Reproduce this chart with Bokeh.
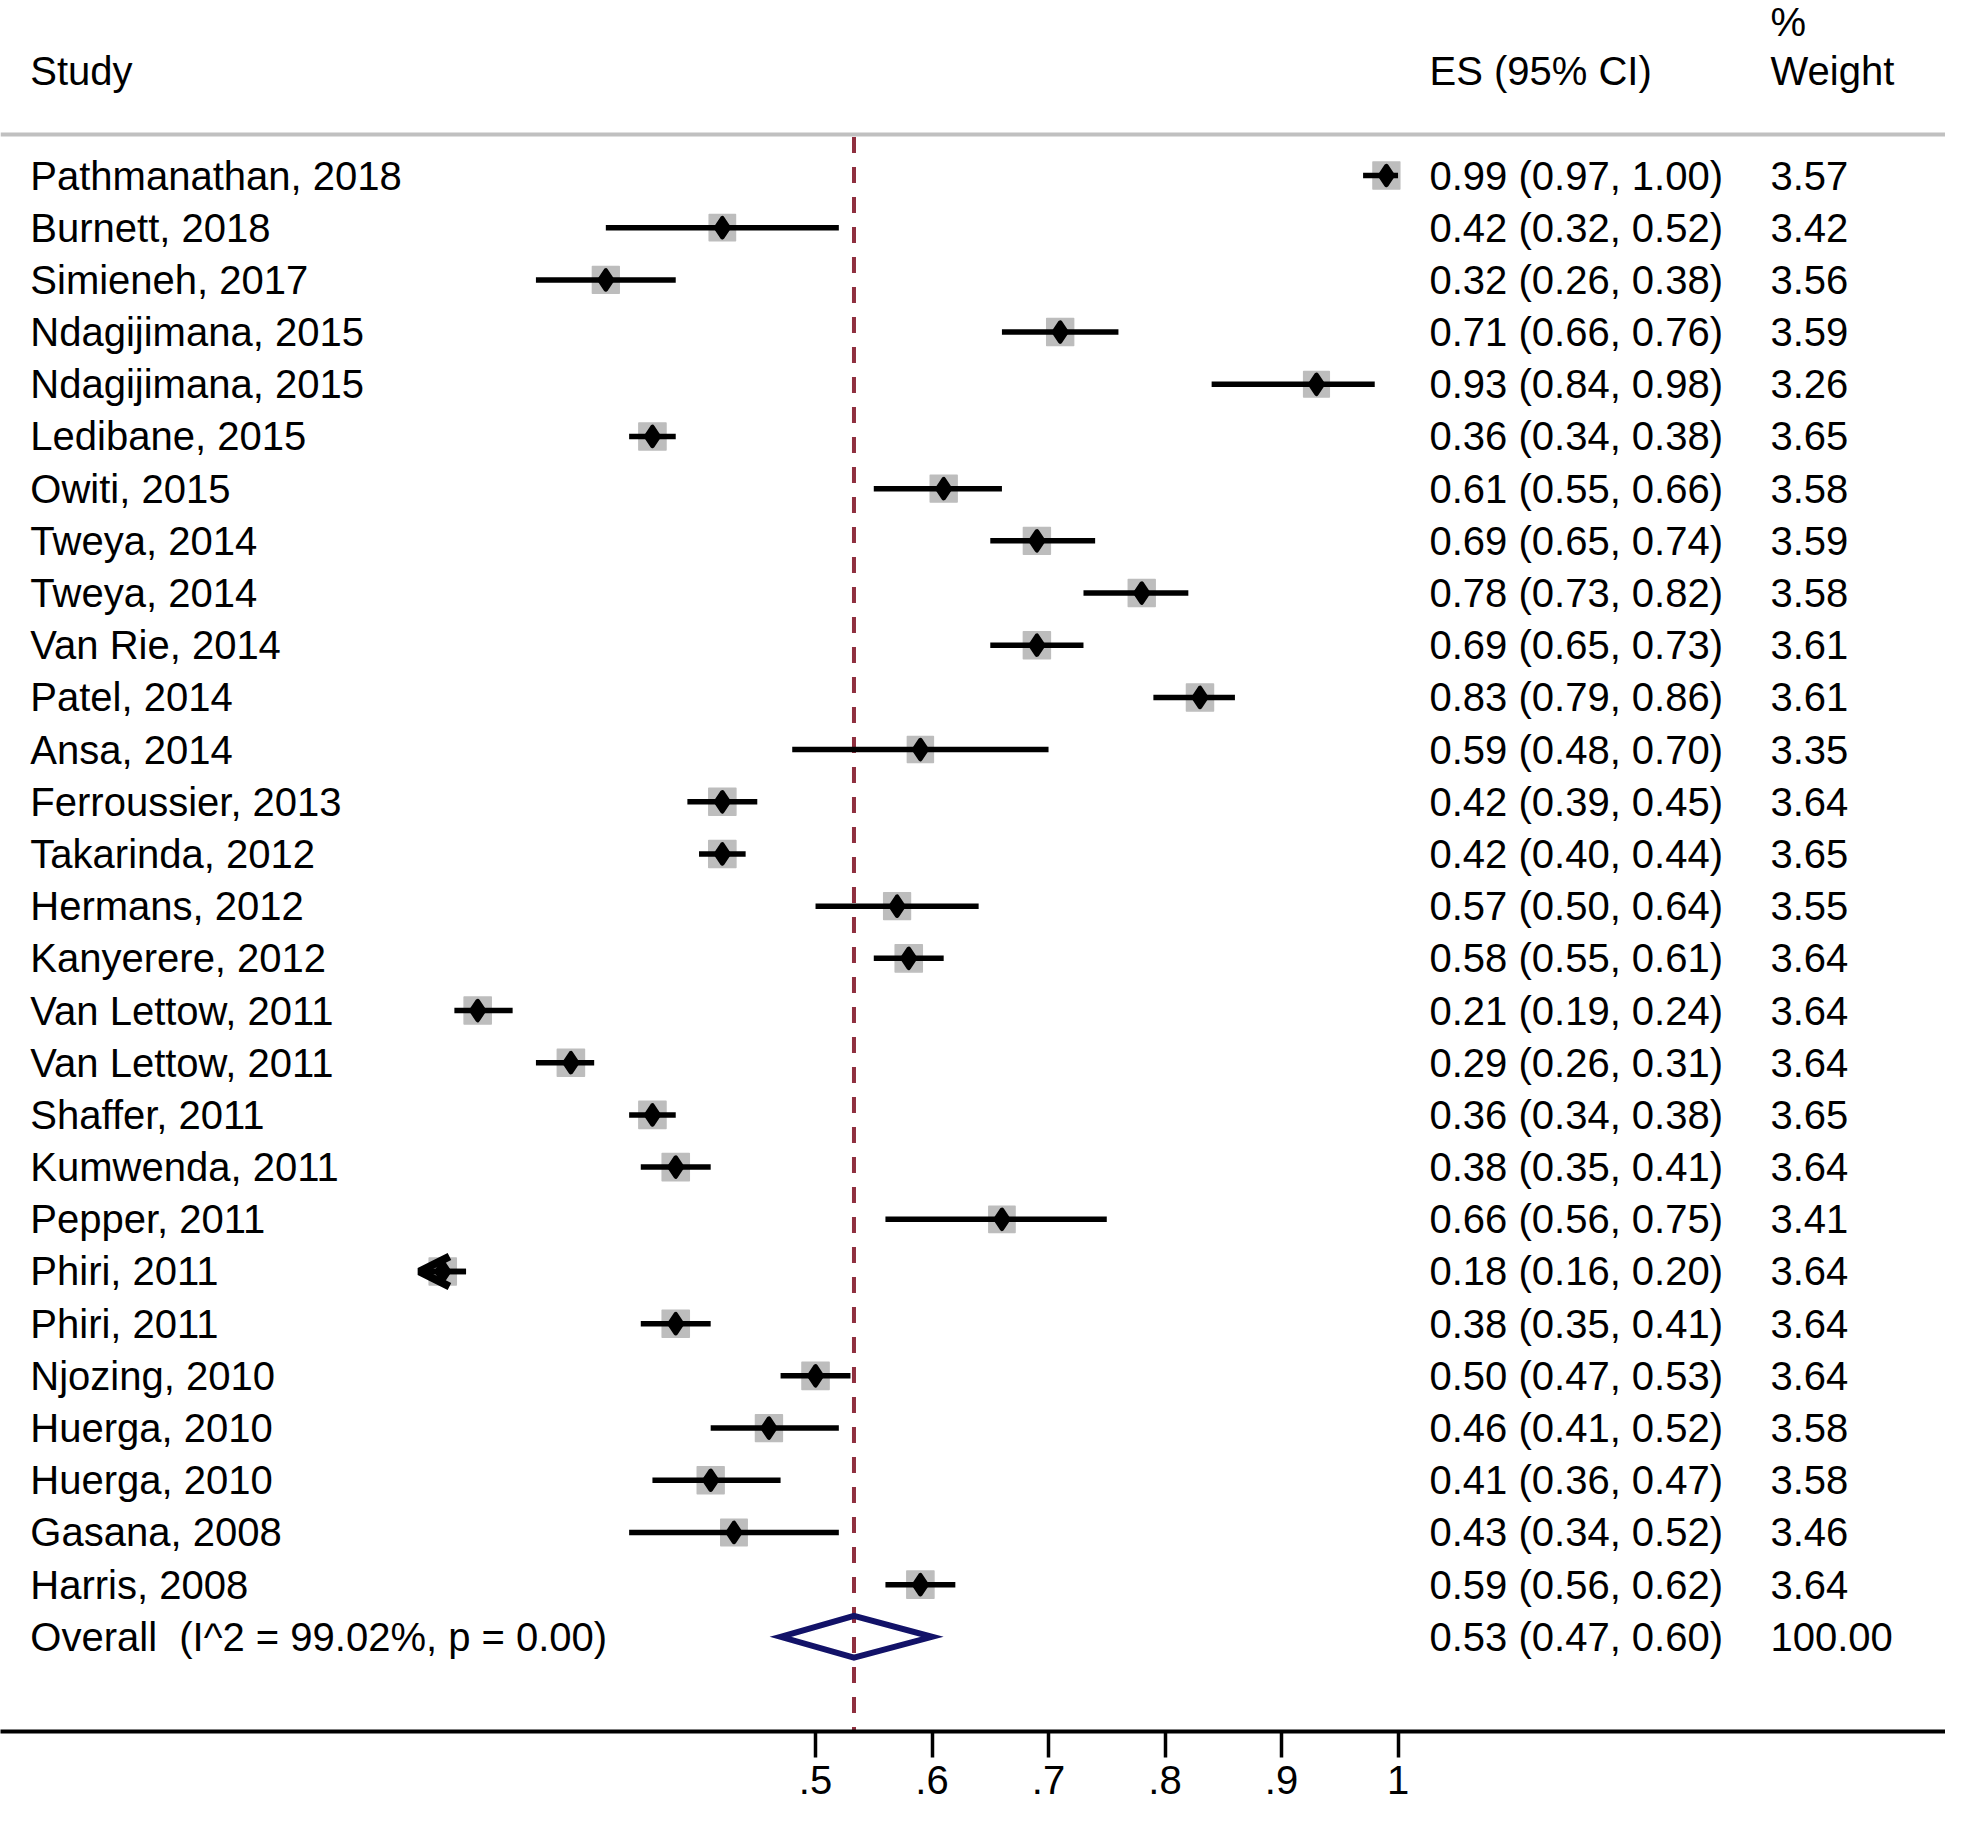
from bokeh.plotting import figure
from bokeh.models import Range1d, FixedTicker, ColumnDataSource, Arrow, OpenHead
from bokeh.core.properties import value
from bokeh.embed import file_html
from bokeh.resources import INLINE

# ---------------- data ----------------
studies = [
    "Pathmanathan, 2018", "Burnett, 2018", "Simieneh, 2017", "Ndagijimana, 2015",
    "Ndagijimana, 2015", "Ledibane, 2015", "Owiti, 2015", "Tweya, 2014",
    "Tweya, 2014", "Van Rie, 2014", "Patel, 2014", "Ansa, 2014",
    "Ferroussier, 2013", "Takarinda, 2012", "Hermans, 2012", "Kanyerere, 2012",
    "Van Lettow, 2011", "Van Lettow, 2011", "Shaffer, 2011", "Kumwenda, 2011",
    "Pepper, 2011", "Phiri, 2011", "Phiri, 2011", "Njozing, 2010",
    "Huerga, 2010", "Huerga, 2010", "Gasana, 2008", "Harris, 2008",
]
es = [0.99, 0.42, 0.32, 0.71, 0.93, 0.36, 0.61, 0.69, 0.78, 0.69, 0.83, 0.59,
      0.42, 0.42, 0.57, 0.58, 0.21, 0.29, 0.36, 0.38, 0.66, 0.18, 0.38, 0.50,
      0.46, 0.41, 0.43, 0.59]
ci_low = [0.97, 0.32, 0.26, 0.66, 0.84, 0.34, 0.55, 0.65, 0.73, 0.65, 0.79, 0.48,
          0.39, 0.40, 0.50, 0.55, 0.19, 0.26, 0.34, 0.35, 0.56, 0.16, 0.35, 0.47,
          0.41, 0.36, 0.34, 0.56]
ci_high = [1.00, 0.52, 0.38, 0.76, 0.98, 0.38, 0.66, 0.74, 0.82, 0.73, 0.86, 0.70,
           0.45, 0.44, 0.64, 0.61, 0.24, 0.31, 0.38, 0.41, 0.75, 0.20, 0.41, 0.53,
           0.52, 0.47, 0.52, 0.62]
weight = [3.57, 3.42, 3.56, 3.59, 3.26, 3.65, 3.58, 3.59, 3.58, 3.61, 3.61, 3.35,
          3.64, 3.65, 3.55, 3.64, 3.64, 3.64, 3.65, 3.64, 3.41, 3.64, 3.64, 3.64,
          3.58, 3.58, 3.46, 3.64]

overall_label = "Overall \u00a0(I^2 = 99.02%, p = 0.00)"
overall_es = 0.533
overall_low = 0.47
overall_high = 0.60
overall_weight = 100.00

x_ticks = [0.5, 0.6, 0.7, 0.8, 0.9, 1.0]
tick_labels = [".5", ".6", ".7", ".8", ".9", "1"]

header_study = "Study"
header_es = "ES (95% CI)"
header_w1 = "%"
header_w2 = "Weight"

arrow_limit = 0.17  # CIs reaching below this are drawn with an arrow

# ---------------- layout constants ----------------
W, H = 1945, 1816
FRAME_H = 1731
ROW_PX = 52.19
ROW0_PX = 175.0
FONT = value("Liberation Sans")
FS = value("40px")

y_top = -ROW0_PX / ROW_PX
y_bottom = y_top + FRAME_H / ROW_PX
x_left = -0.1996
x_right = x_left + W / 1165.0

n = len(studies)
rows = list(range(n))
overall_row = n

x_label = -0.174
x_es_col = 1.027
x_w_col = 1.3197

p = figure(width=W, height=H, output_backend="svg", toolbar_location=None,
           x_range=Range1d(x_left, x_right), y_range=Range1d(y_bottom, y_top),
           y_axis_location=None, min_border_left=0, min_border_right=0,
           min_border_top=0, min_border_bottom=H - FRAME_H, outline_line_color=None,
           background_fill_color="white", border_fill_color="white")
p.xgrid.visible = False
p.ygrid.visible = False

# header separator line
p.segment(x0=[x_left], x1=[x_right], y0=[-0.786], y1=[-0.786],
          line_color="#c0c0c0", line_width=4)

# overall dashed line
p.segment(x0=[overall_es], x1=[overall_es], y0=[-0.74], y1=[y_bottom],
          line_color="#8f2f3f", line_width=4, line_dash="16 14")

src = ColumnDataSource(dict(
    y=rows, es=es, lo=ci_low, hi=ci_high, w=weight,
    side=[14.2 * (w ** 0.5) for w in weight],
    label=studies,
    es_txt=["%.2f (%.2f, %.2f)" % (e, l, h) for e, l, h in zip(es, ci_low, ci_high)],
    w_txt=["%.2f" % w for w in weight],
))

# weight boxes, CIs, point estimates
p.scatter(x="es", y="y", size="side", marker="square", source=src,
          fill_color="#bdbdbd", line_color="#bdbdbd", line_width=1.5,
          line_join="round")
p.segment(x0="lo", x1="hi", y0="y", y1="y", source=src,
          line_color="black", line_width=5.5)
p.scatter(x="es", y="y", size=19, marker="diamond", source=src,
          fill_color="black", line_color="black", line_width=4.5, line_join="round")

for lo_v, hi_v, r in zip(ci_low, ci_high, rows):
    if lo_v < arrow_limit:
        p.add_layout(Arrow(end=OpenHead(size=30, line_width=8, line_color="black"),
                           x_start=hi_v, x_end=lo_v, y_start=r, y_end=r,
                           line_color="black", line_width=5.5))

# overall diamond
hh = 0.40
p.patch(x=[overall_low, overall_es, overall_high, overall_es],
        y=[overall_row, overall_row - hh, overall_row, overall_row + hh],
        fill_color=None, line_color="#121268", line_width=6, line_join="miter")

# texts
for col, xpos in (("label", x_label), ("es_txt", x_es_col), ("w_txt", x_w_col)):
    p.text(x=xpos, y="y", text=col, source=src, text_font=FONT, text_font_size=FS,
           text_baseline="middle", text_align="left", text_color="black")

p.text(x=[x_label, x_es_col, x_w_col],
       y=[overall_row] * 3,
       text=[overall_label,
             "%.2f (%.2f, %.2f)" % (overall_es, overall_low, overall_high),
             "%.2f" % overall_weight],
       text_font=FONT, text_font_size=FS, text_baseline="middle",
       text_align="left", text_color="black")

p.text(x=[x_label, x_es_col, x_w_col, x_w_col],
       y=[-1.993, -1.993, -2.95, -1.993],
       text=[header_study, header_es, header_w1, header_w2],
       text_font=FONT, text_font_size=FS, text_baseline="middle",
       text_align="left", text_color="black")

# x axis
ax = p.xaxis[0]
ax.ticker = FixedTicker(ticks=x_ticks)
ax.major_label_overrides = {t: lab for t, lab in zip(x_ticks, tick_labels)}
ax.axis_line_width = 4
ax.axis_line_color = "black"
ax.major_tick_line_width = 3.5
ax.major_tick_line_color = "black"
ax.major_tick_out = 26
ax.major_tick_in = 0
ax.minor_tick_line_color = None
ax.major_label_standoff = 8
ax.major_label_text_font = "Liberation Sans"
ax.major_label_text_font_size = "40px"
ax.major_label_text_color = "black"

open("out.html", "w").write(file_html(p, INLINE))
